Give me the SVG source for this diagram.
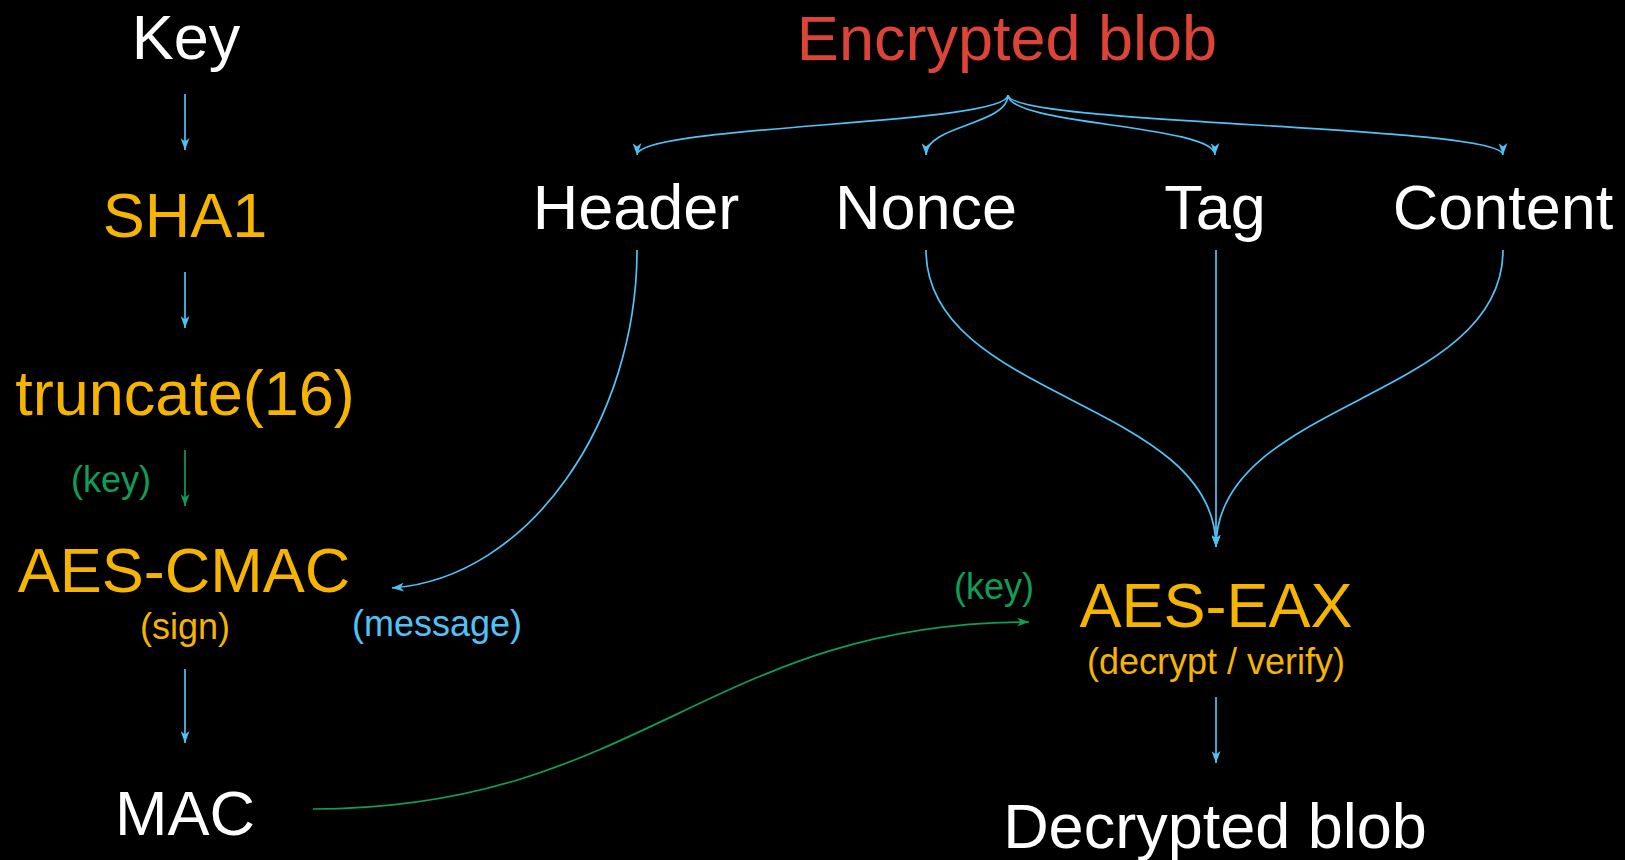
<svg xmlns="http://www.w3.org/2000/svg" width="1625" height="860" viewBox="0 0 1625 860">
  <style>
    text { font-family: "Liberation Sans", Arial, sans-serif; text-anchor: middle; }
    .big { font-size: 63px; }
    .small { font-size: 36px; }
    .white { fill: #ffffff; }
    .gold { fill: #F4B400; }
    .red { fill: #DB4437; }
    .green { fill: #0F9D58; }
    .blue { fill: #4FC3F7; }
    .eb { fill: none; stroke: #4FC3F7; stroke-width: 1.7; marker-end: url(#ab); }
    .eg { fill: none; stroke: #0F9D58; stroke-width: 1.7; marker-end: url(#ag); }
  </style>
  <defs>
    <marker id="ab" viewBox="0 0 12 9" markerUnits="userSpaceOnUse" markerWidth="12" markerHeight="9" refX="12" refY="4.5" orient="auto">
      <path d="M0,0 L12,4.5 L0,9 L3.5,4.5 z" fill="#4FC3F7"/>
    </marker>
    <marker id="ag" viewBox="0 0 12 9" markerUnits="userSpaceOnUse" markerWidth="12" markerHeight="9" refX="12" refY="4.5" orient="auto">
      <path d="M0,0 L12,4.5 L0,9 L3.5,4.5 z" fill="#0F9D58"/>
    </marker>
  </defs>
  <rect x="0" y="0" width="1625" height="860" fill="#000000"/>

  <g id="connectors">
    <path class="eb" d="M185,94 L185,150"/>
    <path class="eb" d="M185,272 L185,328"/>
    <path class="eg" d="M185,450 L185,506"/>
    <path class="eb" d="M185,669 L185,743"/>
    <path class="eb" d="M637,250 C637,420 530,578 392,588"/>
    <path class="eg" d="M313,809 C640,809 710,622 1029,622"/>
    <path class="eb" d="M1008,95 C1008,125 637,125 637,155"/>
    <path class="eb" d="M1008,95 C1008,125 926,125 926,155"/>
    <path class="eb" d="M1008,95 C1008,125 1215,125 1215,155"/>
    <path class="eb" d="M1008,95 C1008,125 1503,125 1503,155"/>
    <path class="eb" d="M926,250 C926,400 1216,400 1216,547"/>
    <path class="eb" d="M1216,250 L1216,547"/>
    <path class="eb" d="M1503,250 C1503,400 1216,400 1216,547"/>
    <path class="eb" d="M1216,697 L1216,763"/>
  </g>

  <g id="key"><text class="big white" x="186" y="59">Key</text></g>
  <g id="sha1"><text class="big gold" x="185" y="237">SHA1</text></g>
  <g id="truncate"><text class="big gold" x="185" y="415">truncate(16)</text></g>
  <g id="key-label-left"><text class="small green" x="111" y="492">(key)</text></g>
  <g id="aes-cmac">
    <text class="big gold" x="184" y="592">AES-CMAC</text>
    <text class="small gold" x="185" y="639">(sign)</text>
  </g>
  <g id="message-label"><text class="small blue" x="437" y="636">(message)</text></g>
  <g id="mac"><text class="big white" x="185" y="835">MAC</text></g>
  <g id="encrypted-blob"><text class="big red" x="1007" y="60">Encrypted blob</text></g>
  <g id="header"><text class="big white" x="636" y="229">Header</text></g>
  <g id="nonce"><text class="big white" x="926" y="229">Nonce</text></g>
  <g id="tag"><text class="big white" x="1215" y="229">Tag</text></g>
  <g id="content"><text class="big white" x="1503" y="229">Content</text></g>
  <g id="key-label-right"><text class="small green" x="994" y="599">(key)</text></g>
  <g id="aes-eax">
    <text class="big gold" x="1216" y="627">AES-EAX</text>
    <text class="small gold" x="1216" y="674">(decrypt / verify)</text>
  </g>
  <g id="decrypted-blob"><text class="big white" x="1215" y="848">Decrypted blob</text></g>
</svg>
